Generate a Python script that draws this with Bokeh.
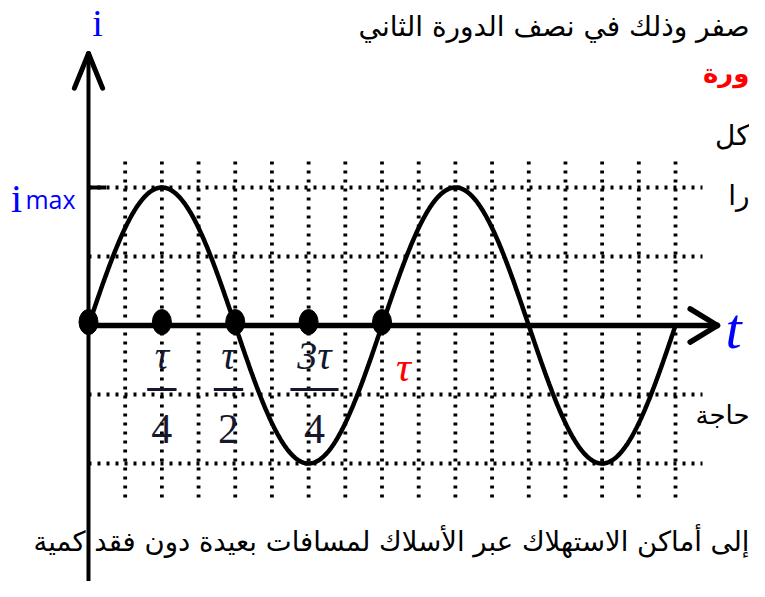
import numpy as np
from bokeh.plotting import figure
from bokeh.models import Range1d
from bokeh.core.properties import value
from bokeh.embed import file_html
from bokeh.resources import INLINE

# ---- data (time in units of tau, current in units of imax) ----
period = 1.0
amplitude = 1.0
n_periods = 2
marked_t = [0.0, 0.25, 0.5, 0.75, 1.0]
grid_t = [0.125, 0.25, 0.375, 0.5, 0.625, 0.75, 0.875, 1.0,
          1.125, 1.25, 1.375, 1.5, 1.625, 1.75, 1.875, 2.0]
grid_i = [1.0, 0.5, -0.5, -1.0]
frac_num = ["τ", "τ", "3τ"]
frac_den = ["4", "2", "4"]
frac_t = [0.25, 0.477, 0.77]
frac_half = [0.05, 0.05, 0.082]

t = np.linspace(0, n_periods * period, 600)
i = amplitude * np.sin(2 * np.pi * t / period)

SERIF = value("Liberation Serif")
AR = value("DejaVu Sans")
XR = 2.2521

p = figure(width=749, height=581, output_backend="svg", toolbar_location=None,
           x_range=Range1d(-0.2998, XR), y_range=Range1d(-1.8551, 2.3551),
           x_axis_type=None, y_axis_type=None, min_border=0)
p.outline_line_color = None
p.grid.visible = False
p.background_fill_color = "white"
p.border_fill_color = "white"

# dotted grid
p.multi_line(xs=[[g, g] for g in grid_t], ys=[[-1.246, 1.196]] * len(grid_t),
             line_color="black", line_width=3.8, line_dash="3 6")
p.multi_line(xs=[[0, 2.092]] * len(grid_i), ys=[[g, g] for g in grid_i],
             line_color="black", line_width=3.8, line_dash="3 6")

# axes
p.segment(x0=[0], y0=[-1.8551], x1=[0], y1=[1.965], line_color="black", line_width=4)
p.segment(x0=[-0.048, 0.048], y0=[1.72, 1.72], x1=[0, 0], y1=[1.971, 1.971],
          line_color="black", line_width=5, line_cap="round")
p.segment(x0=[0], y0=[0], x1=[2.14], y1=[0], line_color="black", line_width=5.5)
p.segment(x0=[2.05, 2.05], y0=[0.12, -0.12], x1=[2.143, 2.143], y1=[0, 0],
          line_color="black", line_width=5.5, line_cap="round")
# imax tick
p.segment(x0=[0], y0=[1.0], x1=[0.06], y1=[1.0], line_color="black", line_width=4)

# sine curve
p.line(t, i, line_color="black", line_width=4.5)

# marked points
p.ellipse(x=marked_t, y=[0.025] * len(marked_t), width=19, height=25,
          width_units="screen", height_units="screen", fill_color="black", line_color="black")

# fraction labels
p.text(x=frac_t, y=[-0.22] * 3, text=frac_num, text_align="center", text_baseline="middle",
       text_font=SERIF, text_font_style="italic", text_font_size="40px", text_color="#15172e")
p.text(x=frac_t, y=[-0.75] * 3, text=frac_den, text_align="center", text_baseline="middle",
       text_font=SERIF, text_font_size="42px", text_color="#15172e")
p.segment(x0=[a - h for a, h in zip(frac_t, frac_half)], y0=[-0.464] * 3,
          x1=[a + h for a, h in zip(frac_t, frac_half)], y1=[-0.464] * 3,
          line_color="#15172e", line_width=3)
p.text(x=[1.073], y=[-0.3], text=["τ"], text_align="center", text_baseline="middle",
       text_font=SERIF, text_font_style="italic", text_font_size="42px", text_color="red")

# axis labels
p.text(x=[0.031], y=[2.19], text=["i"], text_align="center", text_baseline="middle",
       text_font=SERIF, text_font_size="38px", text_color="blue")
p.text(x=[-0.245], y=[0.92], text=["i"], text_align="center", text_baseline="alphabetic",
       text_font=SERIF, text_font_size="40px", text_color="blue")
p.text(x=[-0.215], y=[0.92], text=["max"], text_align="left", text_baseline="alphabetic",
       text_font=value("Open Sans"), text_font_size="25px", text_color="blue")
p.text(x=[2.17], y=[-0.02], text=["t"], text_align="left", text_baseline="middle",
       text_font=SERIF, text_font_style="italic", text_font_size="58px", text_color="blue")

# surrounding Arabic page text
p.text(x=[XR], y=[2.17], text=["صفر وذلك في نصف الدورة الثاني"], text_align="right",
       text_baseline="middle", text_font=AR, text_font_size="28px", text_color="black")
p.text(x=[XR], y=[1.83], text=["ورة"], text_align="right", text_baseline="middle",
       text_font=AR, text_font_style="bold", text_font_size="26px", text_color="red")
p.text(x=[XR], y=[1.38], text=["كل"], text_align="right", text_baseline="middle",
       text_font=AR, text_font_size="28px", text_color="black")
p.text(x=[XR], y=[0.94], text=["را"], text_align="right", text_baseline="middle",
       text_font=AR, text_font_size="28px", text_color="black")
p.text(x=[XR], y=[-0.65], text=["حاجة"], text_align="right", text_baseline="middle",
       text_font=AR, text_font_size="26px", text_color="black")
p.text(x=[XR], y=[-1.56], text=["إلى أماكن الاستهلاك عبر الأسلاك لمسافات بعيدة دون فقد كمية"],
       text_align="right", text_baseline="middle", text_font=AR, text_font_size="27.5px",
       text_color="black")

open("out.html", "w").write(file_html(p, INLINE))
